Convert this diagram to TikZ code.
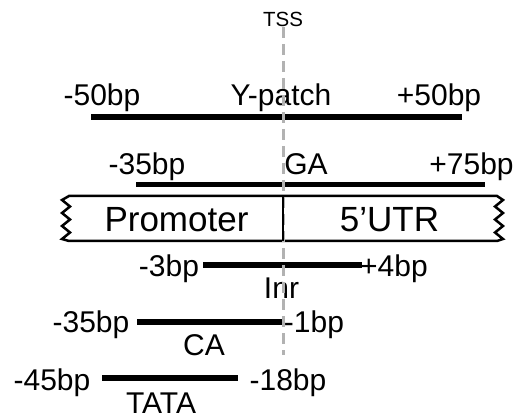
\documentclass[tikz,border=0pt]{standalone}
\usepackage{fontspec}
\setmainfont{Liberation Sans}
\begin{document}
\begin{tikzpicture}[x=1pt,y=-1pt,
  lbl/.style={anchor=base,inner sep=0pt,font=\fontsize{30}{36}\selectfont},
  boxlbl/.style={anchor=base,inner sep=0pt,font=\fontsize{35}{42}\selectfont},
  small/.style={anchor=base,inner sep=0pt,font=\fontsize{20.5}{24}\selectfont},
  bar/.style={line width=5.5pt},
  edge/.style={line width=2.5pt,line join=miter},
  tssline/.style={line width=3pt,draw={rgb,255:red,178;green,178;blue,178},dash pattern=on 11pt off 6pt}]
\useasboundingbox (0,0) rectangle (527,419);

% transcription start site label
\node[small] (tss) at (283,27) {TSS};

% Y-patch element
\node[lbl] (ylo) at (102,106) {-50bp};
\node[lbl] (yname) at (281,106) {Y-patch};
\node[lbl] (yhi) at (439,106) {+50bp};
\coordinate (ya) at (91,117);
\coordinate (yb) at (462,117);
\draw[bar] (ya) -- (yb);

% GA element
\node[lbl] (galo) at (147,175) {-35bp};
\node[lbl] (ganame) at (306,175) {GA};
\node[lbl] (gahi) at (471.5,175) {+75bp};
\coordinate (gaa) at (136,184.5);
\coordinate (gab) at (485,184.5);
\draw[bar] (gaa) -- (gab);

% promoter / 5'UTR strip with torn ends
\coordinate (tl) at (69,196);
\coordinate (tr) at (497,196);
\coordinate (br) at (497,241);
\coordinate (bl) at (69,241);
\draw[edge] (tl) -- (tr)
  -- (503,200) -- (495,206.5) -- (503,213) -- (495,219.5) -- (503,226)
  -- (495,232.5) -- (503,239) -- (br)
  -- (bl)
  -- (62,239) -- (70,232.5) -- (62,226) -- (70,219.5) -- (62,213)
  -- (70,206.5) -- (62,200) -- cycle;
\node[boxlbl] (prom) at (176.5,231.5) {Promoter};
\node[boxlbl] (utr) at (389.5,231.5) {5’UTR};

% Inr element
\node[lbl] (inrlo) at (169,277) {-3bp};
\node[lbl] (inrhi) at (394,277) {+4bp};
\node[lbl] (inrname) at (281.5,298.5) {Inr};
\coordinate (inra) at (203,265);
\coordinate (inrb) at (362,265);
\draw[bar] (inra) -- (inrb);

% CA element
\node[lbl] (calo) at (91,333) {-35bp};
\node[lbl] (cahi) at (314,333) {-1bp};
\node[lbl] (caname) at (204,355) {CA};
\coordinate (caa) at (137,322);
\coordinate (cab) at (282,322);
\draw[bar] (caa) -- (cab);

% TATA element
\node[lbl] (tatalo) at (52,390) {-45bp};
\node[lbl] (tatahi) at (288,390) {-18bp};
\node[lbl] (tataname) at (161,413) {TATA};
\coordinate (taa) at (102,378);
\coordinate (tab) at (238,378);
\draw[bar] (taa) -- (tab);

% dashed marker through the TSS
\coordinate (tssstart) at (283,27);
\coordinate (tssend) at (283,355);
\draw[tssline] (tssstart) -- (tssend);

% promoter / 5'UTR boundary, drawn over the marker
\coordinate (dtop) at (283,196);
\coordinate (dbot) at (283,241);
\draw[edge] (dtop) -- (dbot);
\end{tikzpicture}
\end{document}
